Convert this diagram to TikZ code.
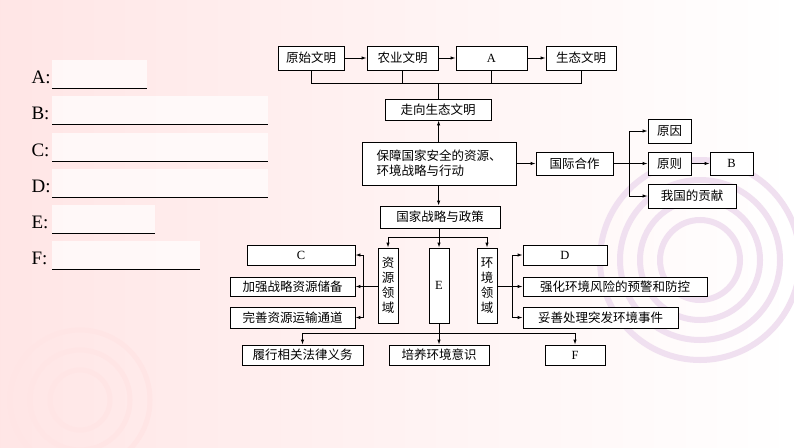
\documentclass[tikz,border=0pt]{standalone}
\usepackage{fontspec}
\setmainfont{Liberation Serif}
\newfontfamily\cjk{Noto Sans CJK SC}
\usetikzlibrary{arrows.meta}
\begin{document}
\begin{tikzpicture}[x=1pt,y=-1pt,
  bx/.style={draw,line width=0.9pt,fill=white,inner sep=0pt,font=\cjk\fontsize{12.5}{15}\selectfont},
  ln/.style={line width=0.9pt},
  ar/.style={line width=0.9pt,-{Latex[length=5pt,width=3.5pt]}},
  lab/.style={anchor=west,font=\fontsize{19}{20}\selectfont}]
\useasboundingbox (0,0) rectangle (794,447);
\shade[left color=pink!40,right color=white] (0,0) rectangle (794,447);
\foreach \r in {40,60,80,100}{\draw[violet!12,line width=6pt] (700,260) circle (\r);}
\foreach \r in {30,50,70}{\draw[pink!40,line width=5pt] (80,400) circle (\r);}
% left labels
\foreach \t/\y/\e in {A/77/147,B/113/268,C/150/268,D/186/268,E/222/155,F/258/200}{
  \fill[white,opacity=0.7] (52,\y-17) rectangle (\e,\y+11);
  \node[lab] (l\t) at (28,\y) {\t:};
  \draw[line width=0.8pt] (52,\y+11) -- (\e,\y+11);
}
% top row
\newcommand{\bxat}[6]{\node[bx,minimum width=#4-#2,minimum height=#5-#3] (#1) at ({(#2+#4)/2},{(#3+#5)/2}) {#6};}
\bxat{ys}{278}{46}{344}{70}{原始文明}
\bxat{ny}{367}{46}{438}{70}{农业文明}
\bxat{A}{456}{46}{527}{70}{\rmfamily A}
\bxat{st}{546}{46}{616}{70}{生态文明}
\draw[ar] (ys) -- (ny); \draw[ar] (ny) -- (A); \draw[ar] (A) -- (st);
\coordinate (j) at (438.6,83);
\draw[ln] (ys.south) |- (st.south |- j) -- (st.south);
\draw[ln] (ny.south) -- (ny.south |- j);
\draw[ln] (A.south) -- (A.south |- j);
\bxat{zx}{385}{99}{491}{120}{走向生态文明}
\draw[ln] (j) -- (zx.north -| j);
\node[bx,minimum width=154,minimum height=43,align=left] (bz) at (439,163.5) {保障国家安全的资源、\\环境战略与行动};
\draw[ar] (bz.north -| j) -- (zx.south -| j);
\bxat{gj}{536}{152}{613}{175}{国际合作}
\draw[ar] (bz.east |- gj) -- (gj);
\bxat{yy}{648}{119}{691}{143}{原因}
\bxat{yz}{648}{152}{691}{175}{原则}
\bxat{B}{710}{152}{753}{175}{\rmfamily B}
\bxat{gx}{648}{184}{736}{208}{我国的贡献}
\coordinate (k) at (629,163.5);
\draw[ln] (gj) -- (k);
\draw[ar] (k |- yy) |- (yy);
\draw[ar] (k) -- (yz);
\draw[ar] (k) |- (gx);
\draw[ln] (k |- yy) -- (k |- gx);
\draw[ar] (yz) -- (B);
\bxat{gz}{380}{206}{500}{228}{国家战略与政策}
\draw[ar] (bz.south -| j) -- (gz.north -| j);
% middle
\node[bx,minimum width=20,minimum height=75,align=center] (zy) at (388,285.5) {资\\源\\领\\域};
\node[bx,minimum width=20,minimum height=75] (E) at (439,285.5) {\rmfamily E};
\node[bx,minimum width=20,minimum height=75,align=center] (hj) at (487,285.5) {环\\境\\领\\域};
\coordinate (m) at (439,237);
\draw[ln] (gz.south -| m) -- (m);
\draw[ln] (zy.north |- m) -- (hj.north |- m);
\draw[ar] (zy.north |- m) -- (zy.north);
\draw[ar] (m) -- (E.north);
\draw[ar] (hj.north |- m) -- (hj.north);
\bxat{C}{247}{245}{355}{265}{\rmfamily C}
\bxat{jq}{230}{277}{355}{296}{加强战略资源储备}
\bxat{ws}{230}{307}{355}{328}{完善资源运输通道}
\coordinate (p) at (363,286);
\draw[ln] (zy.west |- p) -- (p);
\draw[ln] (p |- C) -- (p |- ws);
\draw[ar] (p |- C) -- (C);
\draw[ar] (p |- jq) -- (jq);
\draw[ar] (p |- ws) -- (ws);
\bxat{D}{523}{245}{607}{265}{\rmfamily D}
\bxat{qh}{523}{277}{707}{296}{强化环境风险的预警和防控}
\bxat{tc}{523}{307}{678}{328}{妥善处理突发环境事件}
\coordinate (q) at (512,286);
\draw[ln] (hj.east |- q) -- (q);
\draw[ln] (q |- D) -- (q |- tc);
\draw[ar] (q |- D) -- (D);
\draw[ar] (q |- qh) -- (qh);
\draw[ar] (q |- tc) -- (tc);
% bottom
\bxat{lx}{242}{345}{363}{365}{履行相关法律义务}
\bxat{py}{389}{345}{489}{365}{培养环境意识}
\bxat{F}{545}{345}{605}{365}{\rmfamily F}
\coordinate (b) at (439,333);
\draw[ln] (E.south) -- (b);
\draw[ln] (lx.north |- b) -- (F.north |- b);
\draw[ar] (lx.north |- b) -- (lx.north);
\draw[ar] (b) -- (py.north);
\draw[ar] (F.north |- b) -- (F.north);
\end{tikzpicture}
\end{document}
